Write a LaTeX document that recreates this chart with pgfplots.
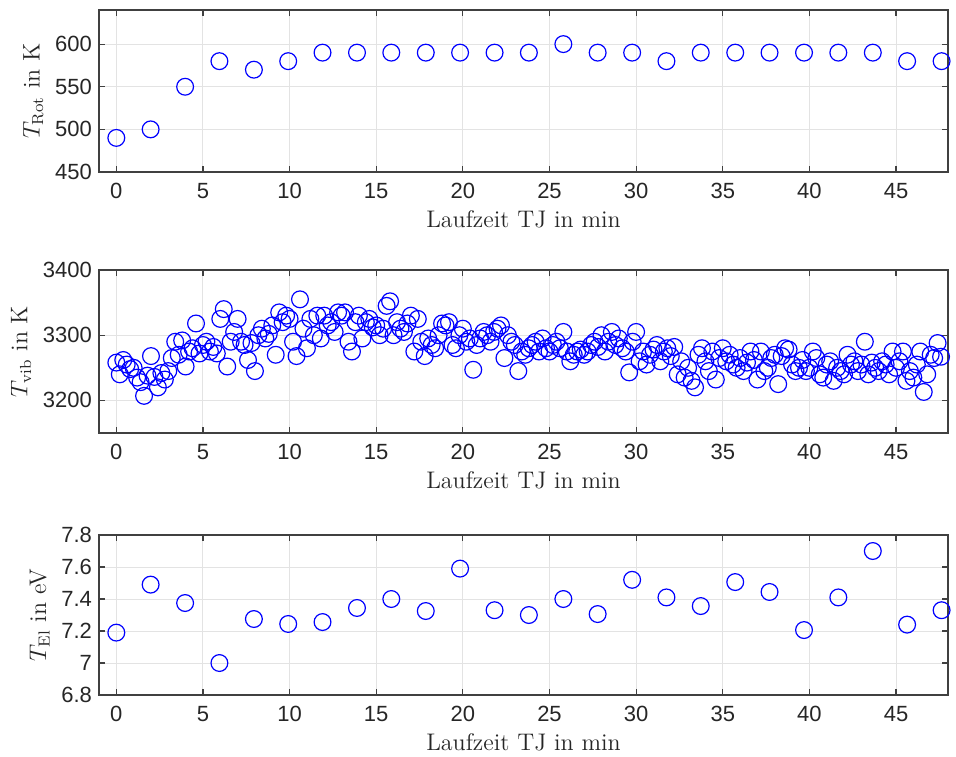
\documentclass[border=0pt]{standalone}
\usepackage{pgfplots}
\pgfplotsset{compat=1.18}
\usepackage{fontspec}
\newfontfamily\ticksf{Liberation Sans}
\definecolor{axgray}{RGB}{64,64,64}
\definecolor{ticktxt}{RGB}{38,38,38}

\pgfplotsset{
  panel/.style={
    scale only axis, width=424.5pt, anchor=north west,
    xmin=-1, xmax=48, xtick={0,5,...,45},
    tick align=inside, major tick length=3pt,
    xmajorgrids, ymajorgrids,
    grid style={gray!22, line width=0.5pt},
    axis line style={axgray, line width=0.6pt},
    every tick/.style={axgray, line width=0.6pt},
    tick label style={font=\ticksf\fontsize{11}{13}\selectfont, text=ticktxt},
    xticklabel style={yshift=-2pt},
    /pgf/number format/assume math mode=true,
    /pgf/number format/1000 sep={},
    scaled y ticks=false,
    label style={font=\fontsize{12}{14}\selectfont, text=ticktxt},
    xlabel={Laufzeit TJ in min},
    xlabel style={yshift=1pt},
    ylabel style={yshift=-1pt},
  },
  pts/.style={only marks, mark=o, mark size=4.2pt, blue, mark options={line width=0.6pt}},
}

\begin{document}
\begin{tikzpicture}
\useasboundingbox (-49.5pt,5pt) rectangle (428.5pt,-373pt);

\begin{axis}[panel, at={(0pt,0pt)}, height=81pt,
  ymin=450, ymax=640, ytick={450,500,...,600},
  ylabel={$T_{\mathrm{Rot}}$ in K}]
\addplot[pts] table[row sep=\\] {
x y\\
0 490\\ 1.98 500\\ 3.97 550\\ 5.95 580\\ 7.94 570\\ 9.92 580\\ 11.9 590\\ 13.89 590\\ 15.87 590\\
17.86 590\\ 19.84 590\\ 21.83 590\\ 23.81 590\\ 25.8 600\\ 27.78 590\\ 29.77 590\\ 31.75 580\\
33.73 590\\ 35.72 590\\ 37.7 590\\ 39.69 590\\ 41.67 590\\ 43.66 590\\ 45.64 580\\ 47.63 580\\
};
\end{axis}

\begin{axis}[panel, at={(0pt,-130pt)}, height=81.5pt,
  ymin=3150, ymax=3400, ytick={3200,3300,3400},
  ylabel={$T_{\mathrm{vib}}$ in K}]
\addplot[pts] table[row sep=\\] {
x y\\
0 3258\\ 0.2 3240\\ 0.4 3262\\ 0.6 3255\\ 0.8 3248\\
1 3250\\ 1.2 3235\\ 1.4 3228\\ 1.6 3207\\ 1.8 3238\\
2 3268\\ 2.2 3236\\ 2.4 3220\\ 2.6 3242\\ 2.8 3232\\
3 3245\\ 3.2 3265\\ 3.4 3290\\ 3.6 3270\\ 3.8 3292\\
4 3252\\ 4.2 3275\\ 4.4 3280\\ 4.6 3318\\ 4.8 3272\\
5 3285\\ 5.2 3290\\ 5.4 3275\\ 5.6 3282\\ 5.8 3272\\
6 3325\\ 6.2 3340\\ 6.4 3252\\ 6.6 3290\\ 6.8 3305\\
7 3325\\ 7.2 3290\\ 7.4 3285\\ 7.6 3262\\ 7.8 3288\\
8 3245\\ 8.2 3300\\ 8.4 3310\\ 8.6 3295\\ 8.8 3302\\
9 3315\\ 9.2 3270\\ 9.4 3335\\ 9.6 3320\\ 9.8 3330\\
10 3325\\ 10.2 3290\\ 10.4 3268\\ 10.6 3355\\ 10.8 3310\\
11 3280\\ 11.2 3325\\ 11.4 3300\\ 11.6 3330\\ 11.8 3295\\
12 3330\\ 12.2 3315\\ 12.4 3320\\ 12.6 3305\\ 12.8 3335\\
13 3330\\ 13.2 3335\\ 13.4 3290\\ 13.6 3275\\ 13.8 3320\\
14 3330\\ 14.2 3295\\ 14.4 3320\\ 14.6 3325\\ 14.8 3312\\
15 3315\\ 15.2 3300\\ 15.4 3310\\ 15.6 3345\\ 15.8 3352\\
16 3300\\ 16.2 3320\\ 16.4 3310\\ 16.6 3305\\ 16.8 3318\\
17 3330\\ 17.2 3275\\ 17.4 3325\\ 17.6 3290\\ 17.8 3268\\
18 3295\\ 18.2 3285\\ 18.4 3280\\ 18.6 3300\\ 18.8 3318\\
19 3315\\ 19.2 3320\\ 19.4 3285\\ 19.6 3280\\ 19.8 3300\\
20 3310\\ 20.2 3290\\ 20.4 3295\\ 20.6 3247\\ 20.8 3285\\
21 3295\\ 21.2 3305\\ 21.4 3300\\ 21.6 3290\\ 21.8 3305\\
22 3310\\ 22.2 3315\\ 22.4 3265\\ 22.6 3300\\ 22.8 3290\\
23 3285\\ 23.2 3245\\ 23.4 3275\\ 23.6 3270\\ 23.8 3280\\
24 3285\\ 24.2 3290\\ 24.4 3275\\ 24.6 3295\\ 24.8 3280\\
25 3275\\ 25.2 3285\\ 25.4 3290\\ 25.6 3280\\ 25.8 3305\\
26 3275\\ 26.2 3260\\ 26.4 3270\\ 26.6 3275\\ 26.8 3278\\
27 3270\\ 27.2 3275\\ 27.4 3285\\ 27.6 3290\\ 27.8 3282\\
28 3300\\ 28.2 3275\\ 28.4 3290\\ 28.6 3305\\ 28.8 3285\\
29 3295\\ 29.2 3280\\ 29.4 3275\\ 29.6 3243\\ 29.8 3290\\
30 3305\\ 30.2 3260\\ 30.4 3275\\ 30.6 3255\\ 30.8 3270\\
31 3278\\ 31.2 3285\\ 31.4 3260\\ 31.6 3275\\ 31.8 3280\\
32 3268\\ 32.2 3282\\ 32.4 3240\\ 32.6 3260\\ 32.8 3235\\
33 3250\\ 33.2 3230\\ 33.4 3220\\ 33.6 3270\\ 33.8 3280\\
34 3260\\ 34.2 3245\\ 34.4 3275\\ 34.6 3232\\ 34.8 3265\\
35 3280\\ 35.2 3260\\ 35.4 3270\\ 35.6 3255\\ 35.8 3250\\
36 3265\\ 36.2 3245\\ 36.4 3258\\ 36.6 3275\\ 36.8 3262\\
37 3232\\ 37.2 3275\\ 37.4 3245\\ 37.6 3250\\ 37.8 3265\\
38 3270\\ 38.2 3225\\ 38.4 3268\\ 38.6 3280\\ 38.8 3278\\
39 3255\\ 39.2 3245\\ 39.4 3250\\ 39.6 3262\\ 39.8 3245\\
40 3250\\ 40.2 3275\\ 40.4 3265\\ 40.6 3240\\ 40.8 3235\\
41 3255\\ 41.2 3260\\ 41.4 3230\\ 41.6 3250\\ 41.8 3245\\
42 3240\\ 42.2 3270\\ 42.4 3255\\ 42.6 3260\\ 42.8 3245\\
43 3255\\ 43.2 3290\\ 43.4 3240\\ 43.6 3258\\ 43.8 3250\\
44 3245\\ 44.2 3260\\ 44.4 3255\\ 44.6 3240\\ 44.8 3275\\
45 3250\\ 45.2 3260\\ 45.4 3275\\ 45.6 3230\\ 45.8 3245\\
46 3235\\ 46.2 3255\\ 46.4 3275\\ 46.6 3213\\ 46.8 3240\\
47 3270\\ 47.2 3265\\ 47.4 3288\\ 47.6 3267\\
};
\end{axis}

\begin{axis}[panel, at={(0pt,-262.5pt)}, height=80pt,
  ymin=6.8, ymax=7.8, ytick={6.8,7,7.2,7.4,7.6,7.8},
  yticklabels={6.8,7,7.2,7.4,7.6,7.8},
  ylabel={$T_{\mathrm{El}}$ in eV}]
\addplot[pts] table[row sep=\\] {
x y\\
0 7.19\\ 1.98 7.49\\ 3.97 7.375\\ 5.95 7.0\\ 7.94 7.275\\ 9.92 7.244\\ 11.9 7.256\\ 13.89 7.344\\
15.87 7.4\\ 17.86 7.325\\ 19.84 7.59\\ 21.83 7.33\\ 23.81 7.3\\ 25.8 7.4\\ 27.78 7.306\\ 29.77 7.52\\
31.75 7.41\\ 33.73 7.356\\ 35.72 7.506\\ 37.7 7.444\\ 39.69 7.206\\ 41.67 7.41\\ 43.66 7.7\\
45.64 7.24\\ 47.63 7.33\\
};
\end{axis}
\end{tikzpicture}
\end{document}
